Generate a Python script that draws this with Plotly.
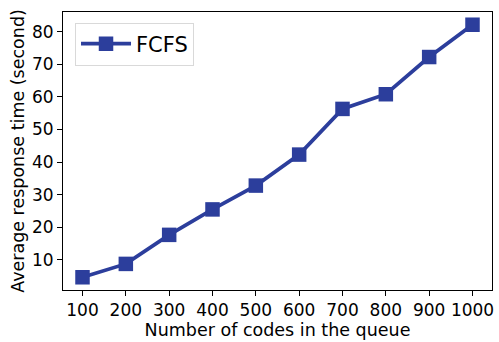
import plotly.graph_objects as go

x_vals = [100, 200, 300, 400, 500, 600, 700, 800, 900, 1000]
fcfs = [4.7, 8.8, 17.7, 25.5, 32.8, 42.3, 56.3, 60.8, 72.2, 82.1]
x_ticks = [100, 200, 300, 400, 500, 600, 700, 800, 900, 1000]
y_ticks = [10, 20, 30, 40, 50, 60, 70, 80]

color = "#2c3e9c"
font = "DejaVu Sans"

fig = go.Figure()
fig.add_trace(go.Scatter(
    x=x_vals, y=fcfs, mode="lines+markers", name="FCFS",
    line=dict(color=color, width=3.7),
    marker=dict(symbol="square", size=14.5, color=color),
))

fig.update_layout(
    width=499, height=342,
    margin=dict(l=63, r=5, t=12, b=50),
    paper_bgcolor="white", plot_bgcolor="white",
    font=dict(family=font, size=17, color="black"),
    showlegend=True,
    legend=dict(
        x=0.028, y=0.962, xanchor="left", yanchor="top",
        bgcolor="white", bordercolor="#d9d9d9", borderwidth=1,
        font=dict(size=21, family=font),
        itemwidth=50,
    ),
    xaxis=dict(
        range=[55, 1045], tickvals=x_ticks, ticktext=[str(t) for t in x_ticks],
        showgrid=False, zeroline=False, showline=True, linecolor="black", linewidth=1,
        mirror=True, ticks="outside", ticklen=5, tickcolor="black", automargin=True,
        title=dict(text="Number of codes in the queue", font=dict(size=17.5), standoff=4),
        tickfont=dict(size=17),
    ),
    yaxis=dict(
        range=[0.8, 86.0], tickvals=y_ticks, automargin=True,
        showgrid=False, zeroline=False, showline=True, linecolor="black", linewidth=1,
        mirror=True, ticks="outside", ticklen=5, tickcolor="black",
        title=dict(text="Average response time (second)", font=dict(size=17.5), standoff=2),
        tickfont=dict(size=17),
    ),
)

fig.write_html(
    "out.html",
    config={"displayModeBar": False},
    post_script="document.body.style.margin='0';document.body.style.padding='0';document.body.style.overflow='hidden';",
)
